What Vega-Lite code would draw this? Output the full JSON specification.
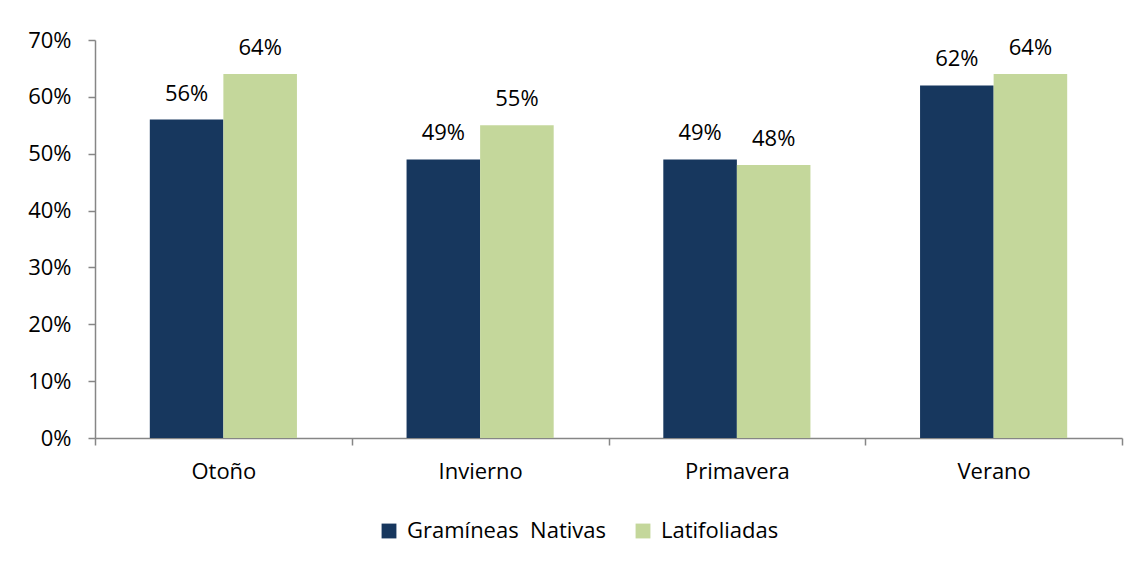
{
  "$schema": "https://vega.github.io/schema/vega-lite/v6.json",
  "width": 1027,
  "height": 398,
  "autosize": {"type": "none"},
  "padding": {"left": 95, "top": 40, "right": 17, "bottom": 127},
  "background": "white",
  "config": {
    "view": {"stroke": null},
    "font": "Open Sans",
    "axis": {"labelFont": "Open Sans", "labelColor": "#000000", "domainColor": "#868686", "tickColor": "#868686", "grid": false, "title": null}
  },
  "data": {
    "values": [
      {"estacion": "Otoño", "grupo": "Gramíneas  Nativas", "valor": 0.56},
      {"estacion": "Otoño", "grupo": "Latifoliadas", "valor": 0.64},
      {"estacion": "Invierno", "grupo": "Gramíneas  Nativas", "valor": 0.49},
      {"estacion": "Invierno", "grupo": "Latifoliadas", "valor": 0.55},
      {"estacion": "Primavera", "grupo": "Gramíneas  Nativas", "valor": 0.49},
      {"estacion": "Primavera", "grupo": "Latifoliadas", "valor": 0.48},
      {"estacion": "Verano", "grupo": "Gramíneas  Nativas", "valor": 0.62},
      {"estacion": "Verano", "grupo": "Latifoliadas", "valor": 0.64}
    ]
  },
  "encoding": {
    "x": {
      "field": "estacion", "type": "nominal",
      "sort": ["Otoño", "Invierno", "Primavera", "Verano"],
      "scale": {"paddingInner": 0, "paddingOuter": 0},
      "axis": {"labelAngle": 0, "labelFontSize": 22, "labelPadding": 16, "tickBand": "extent", "tickSize": 7, "domainWidth": 1.5, "tickWidth": 1.5}
    },
    "y": {
      "field": "valor", "type": "quantitative",
      "scale": {"domain": [0, 0.7]},
      "axis": {"format": ".0%", "values": [0, 0.1, 0.2, 0.3, 0.4, 0.5, 0.6, 0.7], "labelFontSize": 22, "labelPadding": 17, "tickSize": 7, "domainWidth": 1.5, "tickWidth": 1.5}
    },
    "xOffset": {"field": "grupo", "type": "nominal", "sort": ["Gramíneas  Nativas", "Latifoliadas"], "scale": {"paddingInner": 0, "paddingOuter": 0.745}}
  },
  "layer": [
    {
      "mark": {"type": "bar"},
      "encoding": {
        "color": {
          "field": "grupo", "type": "nominal",
          "sort": ["Gramíneas  Nativas", "Latifoliadas"],
          "scale": {"domain": ["Gramíneas  Nativas", "Latifoliadas"], "range": ["#17375E", "#C4D79B"]},
          "legend": {"title": null, "orient": "none", "direction": "horizontal", "legendX": 283, "legendY": 480, "symbolType": "square", "symbolSize": 220, "symbolStrokeWidth": 0, "labelFontSize": 22, "labelFont": "Open Sans", "labelColor": "#000000", "labelLimit": 0, "columnPadding": 26, "labelOffset": 7, "labelExpr": "datum.label == 'Gramíneas  Nativas' ? 'Gramíneas\u00a0 Nativas' : datum.label"}
        }
      }
    },
    {
      "mark": {"type": "text", "baseline": "alphabetic", "dy": -19, "fontSize": 22, "color": "#000000"},
      "encoding": {"text": {"field": "valor", "type": "quantitative", "format": ".0%"}}
    }
  ]
}
